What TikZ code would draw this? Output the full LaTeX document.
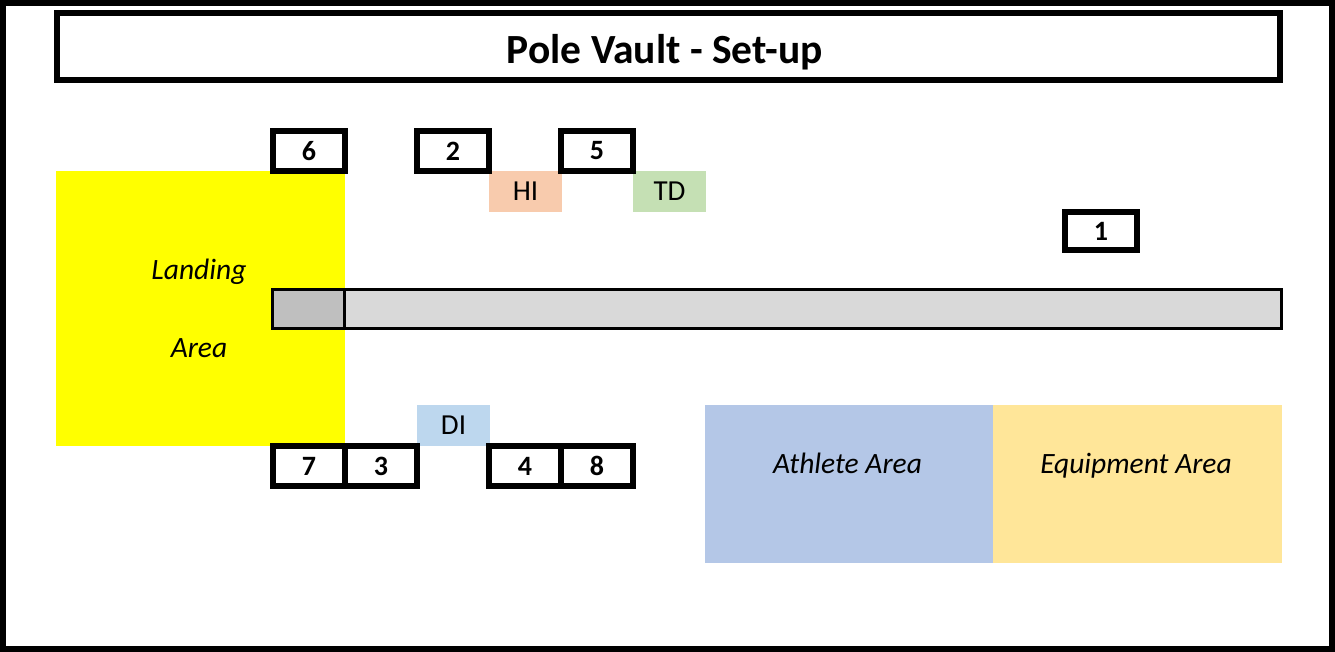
\documentclass[tikz,border=0pt]{standalone}
\usepackage{fontspec}
\setmainfont{Carlito}
\definecolor{landY}{HTML}{FFFF00}
\definecolor{barDark}{HTML}{BFBFBF}
\definecolor{barLight}{HTML}{D9D9D9}
\definecolor{hiC}{HTML}{F8CBAD}
\definecolor{tdC}{HTML}{C5E0B4}
\definecolor{diC}{HTML}{BDD7EE}
\definecolor{athC}{HTML}{B4C7E7}
\definecolor{eqC}{HTML}{FFE699}
\begin{document}
\begin{tikzpicture}[x=1pt,y=-1pt,
  numbox/.style={draw=black,line width=6pt,fill=white,minimum width=72pt,minimum height=40pt,inner sep=0pt,font=\fontsize{28}{32}\selectfont\bfseries},
  tagbox/.style={draw=none,minimum width=73pt,minimum height=41pt,inner sep=0pt,font=\fontsize{29}{34}\selectfont},
  areabox/.style={draw=none,inner sep=0pt},
  arealabel/.style={inner sep=0pt,anchor=base,font=\fontsize{29.5}{34}\selectfont\itshape},
  barpart/.style={draw=black,line width=3pt,inner sep=0pt,minimum height=39pt}]
\useasboundingbox (0,0) rectangle (1335,652);
\fill[white] (0,0) rectangle (1335,652);
\draw[line width=6pt] (3,3) rectangle (1332,649);
% title
\node[draw=black,line width=6pt,minimum width=1223pt,minimum height=67pt,inner sep=0pt] (title) at (668.5,46.5) {};
\node[inner sep=0pt,anchor=base,font=\fontsize{41.5}{46}\selectfont\bfseries] (titletext) at (665,63.5) {Pole Vault - Set-up};
% landing area
\node[areabox,fill=landY,minimum width=289pt,minimum height=275pt] (landing) at (200.5,308.5) {};
\node[arealabel] (landing1) at (199,279.5) {Landing};
\node[arealabel] (landing2) at (199,357.5) {Area};
% runway bar
\node[barpart,fill=barDark,minimum width=71.5pt] (pit) at (308.25,308.5) {};
\node[barpart,fill=barLight,minimum width=937.5pt] (runway) at (812.75,308.5) {};
% athlete / equipment areas
\node[areabox,fill=athC,minimum width=288pt,minimum height=158pt] (athlete) at (849,484) {};
\node[areabox,fill=eqC,minimum width=289pt,minimum height=158pt] (equip) at (1137.5,484) {};
\node[arealabel] (athletetext) at (847.5,473.5) {Athlete Area};
\node[arealabel] (equiptext) at (1136,473.5) {Equipment Area};
% officials tags
\node[tagbox,fill=hiC] (hi) at (525.5,191.5) {HI};
\node[tagbox,fill=tdC] (td) at (669.5,191.5) {TD};
\node[tagbox,fill=diC] (di) at (453.5,425.5) {DI};
% numbered positions
\node[numbox] (n6) at (309,151) {6};
\node[numbox] (n2) at (453,151) {2};
\node[numbox] (n5) at (597,151) {5};
\node[numbox,minimum height=38pt] (n1) at (1101,231) {1};
\node[numbox] (n7) at (309,466) {7};
\node[numbox] (n3) at (381,466) {3};
\node[numbox] (n4) at (525,466) {4};
\node[numbox] (n8) at (597,466) {8};
\end{tikzpicture}
\end{document}
